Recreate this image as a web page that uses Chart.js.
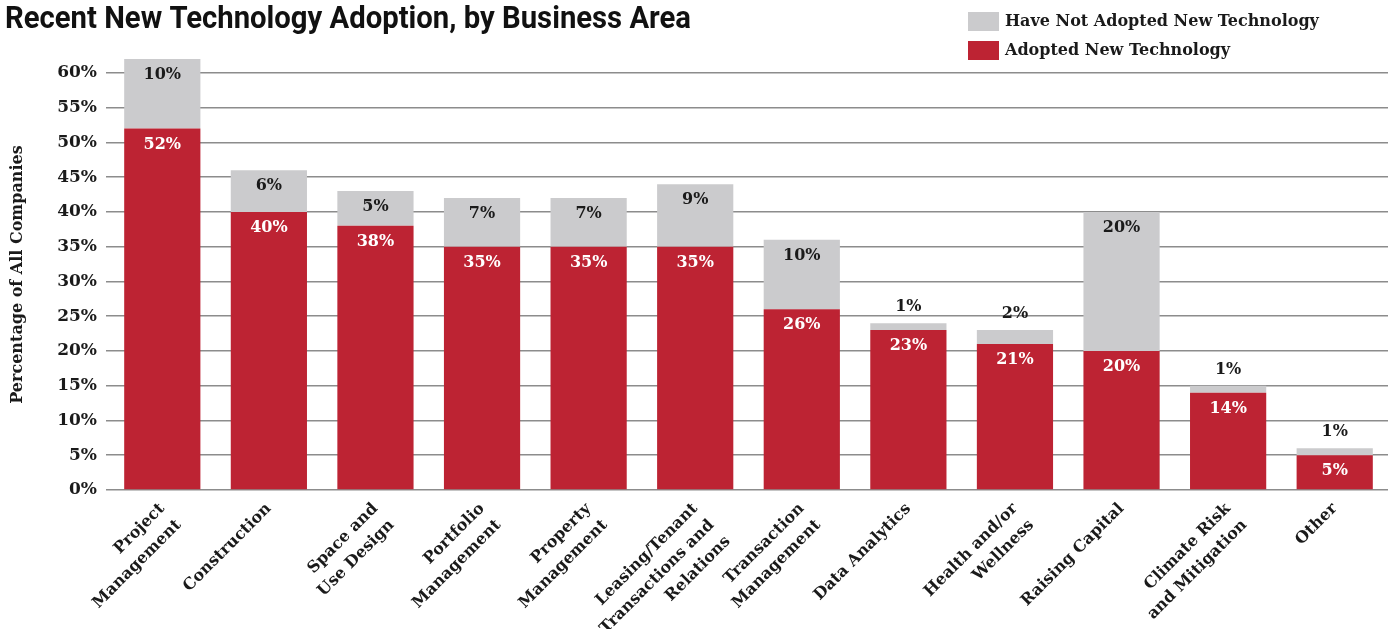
<!DOCTYPE html>
<html>
<head>
<meta charset="utf-8">
<script src="https://cdn.jsdelivr.net/npm/chart.js@4.4.1/dist/chart.umd.min.js"></script>
<style>
  html, body { margin: 0; padding: 0; background: #ffffff; }
  #wrap { position: relative; width: 1396px; height: 629px; }
</style>
</head>
<body>
<div id="wrap"><canvas id="c" width="1396" height="629"></canvas></div>
<script>
const chartTitle = 'Recent New Technology Adoption, by Business Area';
const yAxisTitle = 'Percentage of All Companies';
const categories = [
  ['Project', 'Management'],
  'Construction',
  ['Space and', 'Use Design'],
  ['Portfolio', 'Management'],
  ['Property', 'Management'],
  ['Leasing/Tenant', 'Transactions and', 'Relations'],
  ['Transaction', 'Management'],
  'Data Analytics',
  ['Health and/or', 'Wellness'],
  'Raising Capital',
  ['Climate Risk', 'and Mitigation'],
  'Other'
];
const adopted = [52, 40, 38, 35, 35, 35, 26, 23, 21, 20, 14, 5];
const notAdopted = [10, 6, 5, 7, 7, 9, 10, 1, 2, 20, 1, 1];
const seriesNames = ['Adopted New Technology', 'Have Not Adopted New Technology'];
const yTickValues = [0, 5, 10, 15, 20, 25, 30, 35, 40, 45, 50, 55, 60];

const RED = '#bd2333';
const GREY = '#cbcbcd';
const SERIF = '"DejaVu Serif", "Liberation Serif", serif';

const extrasPlugin = {
  id: 'extras',
  afterDatasetsDraw(chart) {
    const ctx = chart.ctx;
    ctx.save();
    ctx.font = 'bold 16px ' + SERIF;
    ctx.textAlign = 'center';
    ctx.textBaseline = 'middle';
    const m0 = chart.getDatasetMeta(0);
    const m1 = chart.getDatasetMeta(1);
    m0.data.forEach((el, i) => {
      ctx.fillStyle = '#ffffff';
      ctx.fillText(adopted[i] + '%', el.x, el.y + 16);
    });
    m1.data.forEach((el, i) => {
      ctx.fillStyle = '#1a1a1a';
      const h = Math.abs(el.base - el.y);
      if (h > 30) ctx.fillText(notAdopted[i] + '%', el.x, el.y + 16);
      else ctx.fillText(notAdopted[i] + '%', el.x, el.y - 16);
    });
    ctx.restore();
  },
  afterDraw(chart) {
    const ctx = chart.ctx;
    ctx.save();
    ctx.font = 'bold 31px Roboto, "Liberation Sans", sans-serif';
    ctx.fillStyle = '#111111';
    ctx.textBaseline = 'alphabetic';
    ctx.textAlign = 'left';
    const w = ctx.measureText(chartTitle).width;
    const sx = 686 / w;
    ctx.translate(5, 28);
    ctx.scale(sx, 1);
    ctx.fillText(chartTitle, 0, 0);
    ctx.restore();
    ctx.save();
    const items = [
      { label: chart.data.datasets[1].label, color: chart.data.datasets[1].backgroundColor, y: 12 },
      { label: chart.data.datasets[0].label, color: chart.data.datasets[0].backgroundColor, y: 41 }
    ];
    ctx.font = 'bold 16px ' + SERIF;
    ctx.textBaseline = 'middle';
    ctx.textAlign = 'left';
    items.forEach(it => {
      ctx.fillStyle = it.color;
      ctx.fillRect(968, it.y, 31, 19);
      ctx.fillStyle = '#1a1a1a';
      ctx.fillText(it.label, 1005, it.y + 9.5);
    });
    ctx.restore();
  }
};

new Chart(document.getElementById('c'), {
  type: 'bar',
  data: {
    labels: categories,
    datasets: [
      { label: seriesNames[0], data: adopted, backgroundColor: RED, borderWidth: 0,
        barPercentage: 0.715, categoryPercentage: 1.0 },
      { label: seriesNames[1], data: notAdopted, backgroundColor: GREY, borderWidth: 0,
        barPercentage: 0.715, categoryPercentage: 1.0 }
    ]
  },
  options: {
    responsive: false,
    animation: false,
    layout: { padding: { top: 59, right: 8, left: 0, bottom: 0 } },
    plugins: {
      legend: { display: false },
      title: { display: false },
      tooltip: { enabled: false }
    },
    scales: {
      x: {
        stacked: true,
        grid: { display: false },
        border: { display: false },
        afterFit(scale) { scale.height = 139; },
        ticks: {
          autoSkip: false,
          maxRotation: 45,
          minRotation: 45,
          padding: 0,
          color: '#1a1a1a',
          font: { family: SERIF, size: 16, weight: 'bold', lineHeight: 1.45 }
        }
      },
      y: {
        stacked: true,
        min: 0,
        max: 62,
        afterFit(scale) { scale.width = 109; },
        afterBuildTicks(scale) {
          scale.ticks = yTickValues.map(v => ({ value: v }));
        },
        border: { display: false },
        grid: { color: '#8c8c8c', lineWidth: 1.5, tickLength: 3, drawTicks: true },
        ticks: {
          stepSize: 5,
          padding: 9,
          color: '#1a1a1a',
          font: { family: SERIF, size: 17, weight: 'bold' },
          callback: v => v + '%'
        },
        title: {
          display: true,
          text: yAxisTitle,
          color: '#1a1a1a',
          font: { family: SERIF, size: 16, weight: 'bold' },
          padding: { top: 8, bottom: 4 }
        }
      }
    }
  },
  plugins: [extrasPlugin]
});
</script>
</body>
</html>
